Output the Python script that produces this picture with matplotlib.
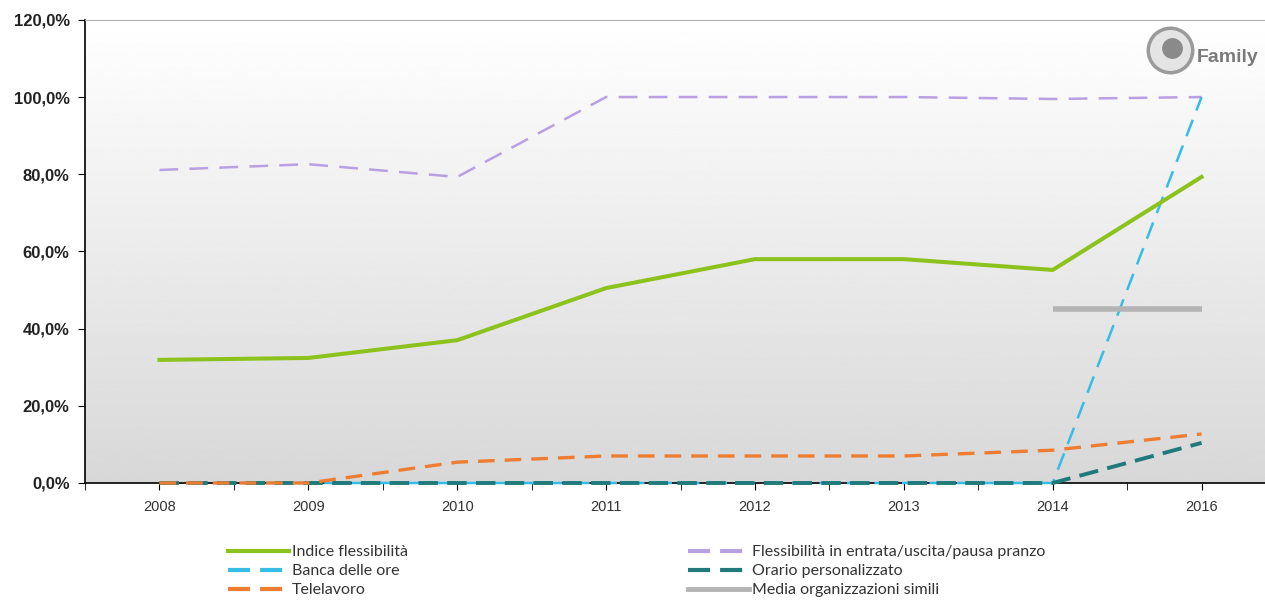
import matplotlib.pyplot as plt
import numpy as np
from matplotlib.lines import Line2D

# values in percent, one per year
years = ['2008', '2009', '2010', '2011', '2012', '2013', '2014', '2016']
indice = [31.9, 32.4, 37.0, 50.5, 58.0, 58.0, 55.2, 79.3]
entrata_uscita = [81.1, 82.6, 79.3, 100.0, 100.0, 100.0, 99.5, 100.0]
banca_ore = [0, 0, 0, 0, 0, 0, 0, 100.0]
orario_pers = [0, 0, 0, 0, 0, 0, 0, 10.4]
telelavoro = [0, 0, 5.4, 7.0, 7.0, 7.0, 8.5, 12.7]
media_simili = 45.0
media_years = ['2014', '2016']

GREEN = '#8cc21c'
PURPLE = '#b8a0e2'
CYAN = '#35bde6'
TEAL = '#1f7a7c'
ORANGE = '#ef7d31'
GREY = '#b4b4b4'

x = np.arange(len(years))

fig = plt.figure(figsize=(12.65, 6.11), dpi=100)
ax = fig.add_axes([0.0672, 0.2095, 0.9415, 0.758])

# background gradient white -> light grey
grad = np.linspace(1.0, 0.845, 256).reshape(-1, 1)
ax.imshow(grad, cmap='gray', vmin=0, vmax=1, aspect='auto',
          extent=[-0.5, 7.5, 0, 120], origin='upper', zorder=0)

ax.plot(x, entrata_uscita, color=PURPLE, lw=1.8, dashes=(7.5, 4.5), zorder=3)
ax.plot(x, indice, color=GREEN, lw=2.9, zorder=4)
ax.plot(x, banca_ore, color=CYAN, lw=1.8, dashes=(7, 4), zorder=3, clip_on=False)
ax.plot(x, orario_pers, color=TEAL, lw=2.8, dashes=(5, 2.4), zorder=4, clip_on=False)
ax.plot(x, telelavoro, color=ORANGE, lw=2.4, dashes=(5, 3), zorder=5, clip_on=False)
mx = [years.index(y) for y in media_years]
ax.plot(mx, [media_simili] * 2, color=GREY, lw=4, zorder=3, solid_capstyle='butt')

ax.set_xlim(-0.5, 7.5)
ax.set_ylim(0, 120)
ax.set_yticks(np.arange(0, 121, 20))
ax.set_yticklabels([f'{v:.1f}%'.replace('.', ',') for v in range(0, 121, 20)],
                   fontsize=12, fontweight='bold', family='Liberation Sans',
                   color='#222222')
ax.set_xticks(x)
ax.set_xticklabels(years, fontsize=10.5, family='Liberation Sans', color='#333333')
ax.set_xticks(np.arange(-0.5, 7.6, 0.5), minor=True)
ax.tick_params(axis='x', which='both', length=5, direction='out', pad=7)
ax.tick_params(axis='y', length=5, direction='out', pad=6)

ax.spines['top'].set_color('#b0b0b0')
ax.spines['right'].set_visible(False)
for side in ('left', 'bottom'):
    ax.spines[side].set_color('black')
    ax.spines[side].set_linewidth(1.2)

# logo in the upper right corner
fig.add_artist(Line2D([1170 / 1265], [1 - 50 / 611], marker='o', markersize=32,
                      markerfacecolor='#e4e4e4', markeredgecolor='#9a9a9a',
                      markeredgewidth=2.5, transform=fig.transFigure))
fig.add_artist(Line2D([1172 / 1265], [1 - 48 / 611], marker='o', markersize=15,
                      markerfacecolor='#8a8a8a', markeredgecolor='none',
                      transform=fig.transFigure))
fig.text(1197 / 1265, 1 - 58 / 611, 'Family', fontsize=14, color='#7a7a7a',
         family='Liberation Sans', fontweight='bold', va='center')

legend_font = {'family': 'Lato', 'size': 11.5}
left_h = [Line2D([], [], color=GREEN, lw=3),
          Line2D([], [], color=CYAN, lw=3, dashes=(5.3, 2.4)),
          Line2D([], [], color=ORANGE, lw=3, dashes=(5.3, 2.4))]
left_l = ['Indice flessibilità', 'Banca delle ore', 'Telelavoro']
right_h = [Line2D([], [], color=PURPLE, lw=3, dashes=(5.3, 2.4)),
           Line2D([], [], color=TEAL, lw=3, dashes=(5.3, 2.4)),
           Line2D([], [], color=GREY, lw=3.5)]
right_l = ['Flessibilità in entrata/uscita/pausa pranzo', 'Orario personalizzato',
           'Media organizzazioni simili']
for h, l, x0 in ((left_h, left_l, 228), (right_h, right_l, 688)):
    fig.legend(h, l, loc='upper left', bbox_to_anchor=(x0 / 1265, 1 - 545 / 611),
               frameon=False, prop=legend_font, labelcolor='#333333',
               handlelength=3.8, handletextpad=0.2, labelspacing=0.3,
               borderaxespad=0, borderpad=0)

fig.savefig('out.png', dpi=100)
